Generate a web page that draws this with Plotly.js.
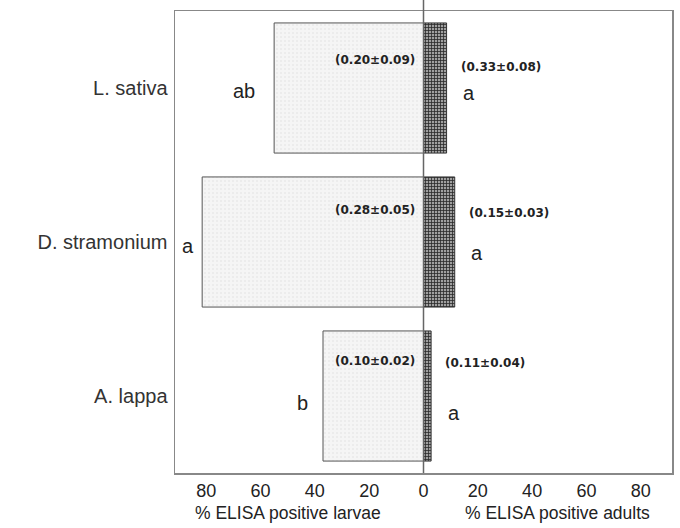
<!DOCTYPE html>
<html>
<head>
<meta charset="utf-8">
<script src="https://cdn.plot.ly/plotly-3.0.1.min.js"></script>
<style>html,body{margin:0;padding:0;background:#fff;}#chart{width:680px;height:528px;}</style>
</head>
<body>
<div id="chart"></div>
<script>
// ---- data ----
const categories = ['L. sativa', 'D. stramonium', 'A. lappa'];
const larvae = [55, 81.5, 37];          // % ELISA positive larvae
const adults = [8.5, 11.5, 2.8];        // % ELISA positive adults
const larvaeValueLabels = ['(0.20\u00B10.09)', '(0.28\u00B10.05)', '(0.10\u00B10.02)'];
const adultValueLabels = ['(0.33\u00B10.08)', '(0.15\u00B10.03)', '(0.11\u00B10.04)'];
const larvaeLetters = ['ab', 'a', 'b'];
const adultLetters = ['a', 'a', 'a'];
const tickValues = [-80, -60, -40, -20, 0, 20, 40, 60, 80];
const tickLabels = ['80', '60', '40', '20', '0', '20', '40', '60', '80'];

// ---- styling / placement ----
const FONT = 'Liberation Sans, Arial, Helvetica, sans-serif';
const larvaeLabelShiftY = [28, 32, 35];
const adultLabelShiftY = [21, 29, 33];
const adultLetterShiftX = [22, 22, 23];
const adultLetterShiftY = [-5, -11, -17];
const larvaeLetterShiftX = [-17, -6, -13];
const larvaeLetterShiftY = [-3, -4, -7];

const traces = [
  {
    type: 'bar', orientation: 'h', y: categories, x: larvae.map(v => -v),
    width: 0.845,
    marker: { color: '#f3f3f3', line: { color: '#555', width: 1 },
      pattern: { shape: '.', fgcolor: '#e0e0e0', bgcolor: '#f5f5f5', size: 4, solidity: 0.12 } },
    hoverinfo: 'skip', showlegend: false
  },
  {
    type: 'bar', orientation: 'h', y: categories, x: adults,
    width: 0.845,
    marker: { color: '#666', line: { color: '#333', width: 1 },
      pattern: { shape: '+', fgcolor: '#2a2a2a', bgcolor: '#a0a0a0', size: 3, solidity: 0.45 } },
    hoverinfo: 'skip', showlegend: false
  }
];

const annotations = [];
categories.forEach((c, i) => {
  annotations.push({ x: 0, y: c, xref: 'x', yref: 'y', text: '<b>' + larvaeValueLabels[i] + '</b>',
    xanchor: 'right', yanchor: 'middle', xshift: -7, yshift: larvaeLabelShiftY[i], showarrow: false,
    font: { family: 'DejaVu Sans, sans-serif', size: 12, color: '#222' } });
  annotations.push({ x: adults[i], y: c, xref: 'x', yref: 'y', text: '<b>' + adultValueLabels[i] + '</b>',
    xanchor: 'left', yanchor: 'middle', xshift: 12, yshift: adultLabelShiftY[i], showarrow: false,
    font: { family: 'DejaVu Sans, sans-serif', size: 12, color: '#222' } });
  annotations.push({ x: adults[i], y: c, xref: 'x', yref: 'y', text: adultLetters[i],
    xanchor: 'center', yanchor: 'middle', xshift: adultLetterShiftX[i], yshift: adultLetterShiftY[i], showarrow: false,
    font: { family: FONT, size: 20, color: '#222' } });
  annotations.push({ x: -larvae[i], y: c, xref: 'x', yref: 'y', text: larvaeLetters[i],
    xanchor: 'right', yanchor: 'middle', xshift: larvaeLetterShiftX[i], yshift: larvaeLetterShiftY[i], showarrow: false,
    font: { family: FONT, size: 20, color: '#222' } });
});
annotations.push({ x: 0.227, y: 0, xref: 'paper', yref: 'paper', yshift: -40, text: '% ELISA positive larvae',
  xanchor: 'center', yanchor: 'middle', showarrow: false, font: { family: FONT, size: 17.5, color: '#222' } });
annotations.push({ x: 0.77, y: 0, xref: 'paper', yref: 'paper', yshift: -40, text: '% ELISA positive adults',
  xanchor: 'center', yanchor: 'middle', showarrow: false, font: { family: FONT, size: 17.5, color: '#222' } });

const layout = {
  width: 680, height: 528,
  margin: { l: 175, r: 8, t: 11, b: 55 },
  paper_bgcolor: '#fff', plot_bgcolor: '#fff',
  barmode: 'overlay',
  xaxis: {
    range: [-91.5, 91.5], tickvals: tickValues, ticktext: tickLabels,
    showgrid: false, zeroline: false, showline: true, mirror: true,
    linecolor: '#888', linewidth: 1.5,
    ticks: 'outside', ticklen: 1, tickcolor: 'rgba(0,0,0,0)',
    tickfont: { family: FONT, size: 18, color: '#222' }, fixedrange: true
  },
  yaxis: {
    type: 'category', range: [2.5, -0.5],
    showgrid: false, zeroline: false, showline: true, mirror: true,
    linecolor: '#888', linewidth: 1.5,
    ticks: 'outside', ticklen: 2, tickcolor: 'rgba(0,0,0,0)',
    tickfont: { family: FONT, size: 20, color: '#333' }, fixedrange: true
  },
  shapes: [{ type: 'line', xref: 'x', yref: 'paper', x0: 0, x1: 0, y0: 0, y1: 1.024,
    line: { color: '#666', width: 1.5 }, layer: 'above' }],
  annotations: annotations
};

Plotly.newPlot('chart', traces, layout, { displayModeBar: false, staticPlot: true });
</script>
</body>
</html>
